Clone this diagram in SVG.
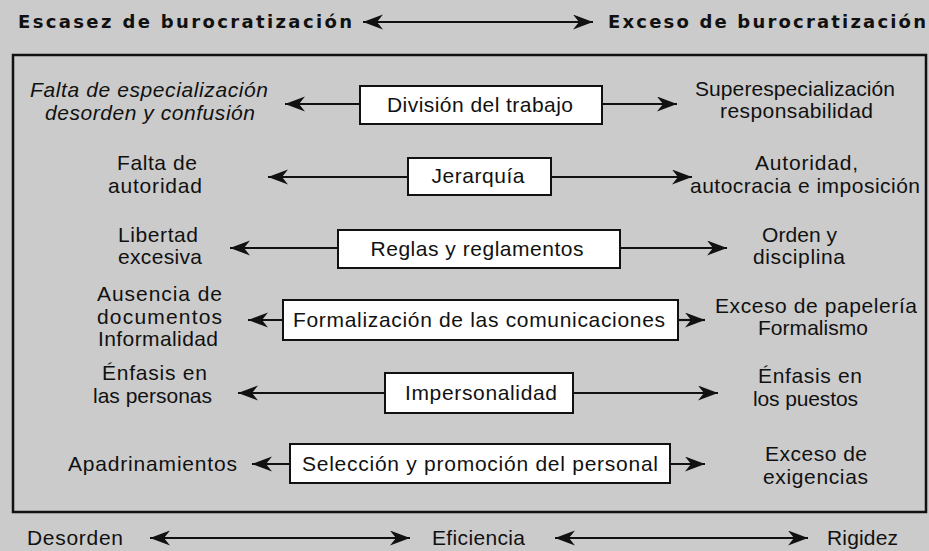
<svg xmlns="http://www.w3.org/2000/svg" width="929" height="551" viewBox="0 0 929 551">
<style>
text{font-family:"Liberation Sans",Arial,sans-serif;font-size:21px;fill:#111;}
.h{font-family:"DejaVu Sans","Liberation Sans",sans-serif;font-weight:bold;font-size:18px;}
.i{font-style:italic;}
.box{fill:#fff;stroke:#111;stroke-width:2;}
.c{fill:none;stroke:#111;stroke-width:2.2;marker-end:url(#ah);}
.d{fill:none;stroke:#111;stroke-width:2.2;marker-start:url(#ah);marker-end:url(#ah);}
</style>
<defs>
<marker id="ah" markerUnits="userSpaceOnUse" markerWidth="22" markerHeight="16" refX="20" refY="7.5" orient="auto-start-reverse">
<path d="M0,0 L20,7.5 L0,15 L6,7.5 z" fill="#111"/>
</marker>
</defs>
<rect x="0" y="0" width="929" height="551" fill="#cbcbcb"/>
<rect id="frame" x="13" y="55" width="913" height="457" fill="none" stroke="#111" stroke-width="2.5"/>

<g id="connectors">
<path class="d" d="M363,22 H593"/>
<path class="c" d="M360,104 H285"/>
<path class="c" d="M602,104 H677"/>
<path class="c" d="M408,177 H268"/>
<path class="c" d="M551,177 H692"/>
<path class="c" d="M338,248 H230"/>
<path class="c" d="M620,248 H727"/>
<path class="c" d="M283,320 H248"/>
<path class="c" d="M678,320 H705"/>
<path class="c" d="M385,393 H238"/>
<path class="c" d="M573,393 H718"/>
<path class="c" d="M290,464 H252"/>
<path class="c" d="M670,464 H705"/>
<path class="d" d="M150,538 H410"/>
<path class="d" d="M555,538 H808"/>
</g>

<g id="top-left"><text class="h" x="18" y="28" textLength="334" lengthAdjust="spacing">Escasez de burocratización</text></g>
<g id="top-right"><text class="h" x="608" y="28" textLength="318" lengthAdjust="spacing">Exceso de burocratización</text></g>

<g id="n-division">
<rect class="box" x="360" y="86" width="242" height="38"/>
<text x="480" y="112" text-anchor="middle" textLength="186" lengthAdjust="spacing">División del trabajo</text>
</g>
<g id="l-division">
<text class="i" x="30" y="97" textLength="238" lengthAdjust="spacing">Falta de especialización</text>
<text class="i" x="45" y="120" textLength="210" lengthAdjust="spacing">desorden y confusión</text>
</g>
<g id="r-division">
<text x="695" y="96" textLength="200" lengthAdjust="spacing">Superespecialización</text>
<text x="720" y="118" textLength="153" lengthAdjust="spacing">responsabilidad</text>
</g>

<g id="n-jerarquia">
<rect class="box" x="408" y="158" width="143" height="37"/>
<text x="478" y="183" text-anchor="middle" textLength="93" lengthAdjust="spacing">Jerarquía</text>
</g>
<g id="l-jerarquia">
<text x="117" y="170" textLength="80" lengthAdjust="spacing">Falta de</text>
<text x="108" y="193" textLength="94" lengthAdjust="spacing">autoridad</text>
</g>
<g id="r-jerarquia">
<text x="755" y="170" textLength="103" lengthAdjust="spacing">Autoridad,</text>
<text x="690" y="193" textLength="230" lengthAdjust="spacing">autocracia e imposición</text>
</g>

<g id="n-reglas">
<rect class="box" x="338" y="230" width="282" height="38"/>
<text x="477" y="256" text-anchor="middle" textLength="213" lengthAdjust="spacing">Reglas y reglamentos</text>
</g>
<g id="l-reglas">
<text x="118" y="242" textLength="80" lengthAdjust="spacing">Libertad</text>
<text x="118" y="264" textLength="84" lengthAdjust="spacing">excesiva</text>
</g>
<g id="r-reglas">
<text x="762" y="242" textLength="75" lengthAdjust="spacing">Orden y</text>
<text x="753" y="264" textLength="92" lengthAdjust="spacing">disciplina</text>
</g>

<g id="n-formalizacion">
<rect class="box" x="283" y="300" width="395" height="40"/>
<text x="479" y="327" text-anchor="middle" textLength="372" lengthAdjust="spacing">Formalización de las comunicaciones</text>
</g>
<g id="l-formalizacion">
<text x="97" y="301" textLength="125" lengthAdjust="spacing">Ausencia de</text>
<text x="97" y="324" textLength="125" lengthAdjust="spacing">documentos</text>
<text x="98" y="346" textLength="120" lengthAdjust="spacing">Informalidad</text>
</g>
<g id="r-formalizacion">
<text x="715" y="313" textLength="202" lengthAdjust="spacing">Exceso de papelería</text>
<text x="758" y="335" textLength="110" lengthAdjust="spacing">Formalismo</text>
</g>

<g id="n-impersonalidad">
<rect class="box" x="385" y="373" width="188" height="40"/>
<text x="481" y="400" text-anchor="middle" textLength="152" lengthAdjust="spacing">Impersonalidad</text>
</g>
<g id="l-impersonalidad">
<text x="102" y="380" textLength="105" lengthAdjust="spacing">Énfasis en</text>
<text x="93" y="403" textLength="119" lengthAdjust="spacing">las personas</text>
</g>
<g id="r-impersonalidad">
<text x="758" y="383" textLength="104" lengthAdjust="spacing">Énfasis en</text>
<text x="753" y="406" textLength="105" lengthAdjust="spacing">los puestos</text>
</g>

<g id="n-seleccion">
<rect class="box" x="290" y="444" width="380" height="39"/>
<text x="480" y="471" text-anchor="middle" textLength="356" lengthAdjust="spacing">Selección y promoción del personal</text>
</g>
<g id="l-seleccion">
<text x="68" y="471" textLength="169" lengthAdjust="spacing">Apadrinamientos</text>
</g>
<g id="r-seleccion">
<text x="765" y="461" textLength="102" lengthAdjust="spacing">Exceso de</text>
<text x="763" y="484" textLength="105" lengthAdjust="spacing">exigencias</text>
</g>

<g id="b-desorden"><text x="27" y="545" textLength="96" lengthAdjust="spacing">Desorden</text></g>
<g id="b-eficiencia"><text x="432" y="545" textLength="93" lengthAdjust="spacing">Eficiencia</text></g>
<g id="b-rigidez"><text x="827" y="545" textLength="71" lengthAdjust="spacing">Rigidez</text></g>
</svg>
